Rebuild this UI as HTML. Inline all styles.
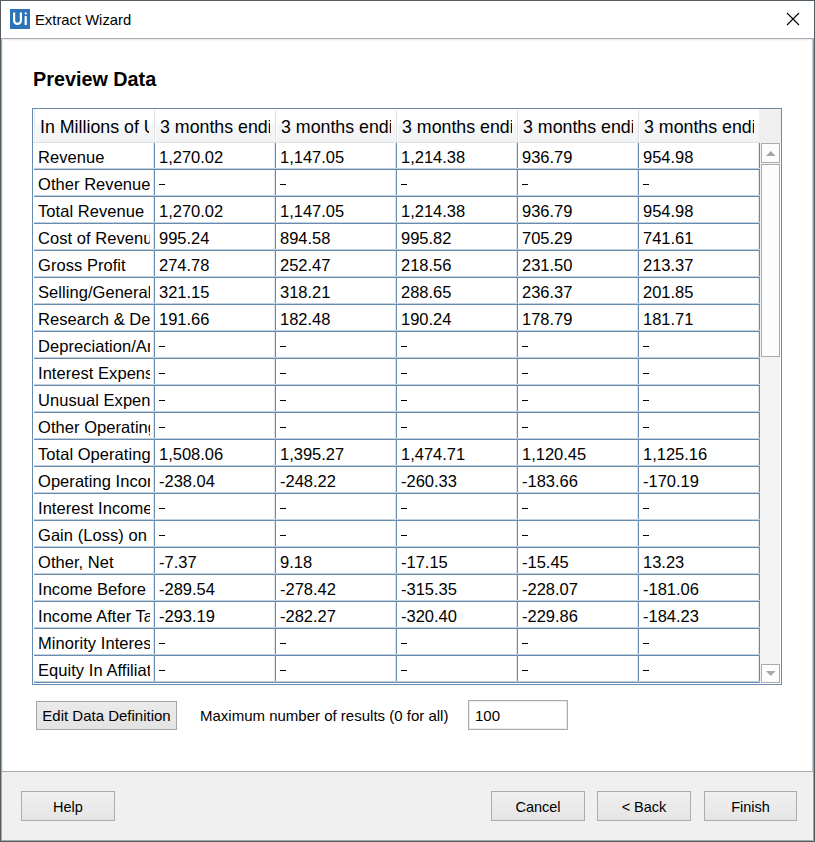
<!DOCTYPE html>
<html><head><meta charset="utf-8">
<style>
*{box-sizing:border-box;margin:0;padding:0}
html,body{width:815px;height:842px;overflow:hidden;background:#fff}
body{position:relative;font-family:"Liberation Sans",sans-serif;color:#000}
div,svg{position:absolute}
i{font-style:normal}
#frame{left:0;top:0;width:815px;height:842px;border:1px solid #535c61}
#tline{left:1px;top:38px;width:813px;height:1px;background:#aaabb0}
#lin{left:1px;top:39px;width:1px;height:802px;background:#a5a8ad}
#lin2{left:2px;top:39px;width:1px;height:801px;background:linear-gradient(#e6e7e9 0,#e6e7e9 732px,#f3f3f3 732px)}
#rin{left:813px;top:39px;width:1px;height:802px;background:#999ca1}
#rin2{left:812px;top:39px;width:1px;height:801px;background:linear-gradient(#c8c9cd 0,#c8c9cd 732px,#f4f4f4 732px)}
#bin{left:1px;top:840px;width:813px;height:1px;background:#a5a8ad}
#icon{left:10px;top:9px;width:20px;height:20px;background:#2e7bc0;color:#fff;font-size:17px;line-height:20px;text-align:center;letter-spacing:-0.5px}
#title{left:35px;top:10px;font-size:14.8px;line-height:20px;white-space:nowrap}
#footer{left:3px;top:772px;width:809px;height:68px;background:#f0f0f0}
#fline{left:2px;top:771px;width:811px;height:1px;background:#a9abb0}
#heading{left:33px;top:67px;font-size:19.8px;font-weight:bold;line-height:24px;white-space:nowrap}
#tbl{left:32px;top:108px;width:750px;height:577px;border:1px solid #688caf;background:#fff}
#hdr{left:33px;top:109px;width:726px;height:34px;background:linear-gradient(#fff 0,#fff 14px,#f7f8fa 14px,#f1f2f4 100%);border-bottom:1px solid #dfe0e2}
.sep{top:110px;width:2px;height:32px;background:linear-gradient(to right,#e1e2e4 50%,#fdfdfd 50%)}
#hdr i{position:absolute;top:0;height:33px;font-size:17.8px;line-height:33px;padding-top:2px;white-space:nowrap;overflow:hidden}
#grid{left:34px;top:143px;width:726px;height:540px;
 background:repeating-linear-gradient(to bottom,transparent 0,transparent 25px,#c2cfdc 25px,#c2cfdc 26px,#688caf 26px,#688caf 27px),
 repeating-linear-gradient(to right,transparent 0,transparent 119px,#dde5ee 119px,#dde5ee 120px,#688caf 120px,#688caf 121px)}
.r{left:0;height:26px;width:760px}
.r i{position:absolute;top:0;height:26px;font-size:16.5px;line-height:26px;padding-top:1px;white-space:nowrap;overflow:hidden}
.r i.k0{font-size:16.5px}
#sbh{left:759px;top:109px;width:22px;height:34px;background:#efefef}
#sb{left:760px;top:143px;width:20px;height:540px;background:#f3f3f3}
.sbb{left:761px;width:19px;height:20px;border:1px solid #ababab;background:#fcfcfc}
.btn{border:1px solid #acacac;background:linear-gradient(#f0f0f0,#e5e5e5);font-size:14.5px;text-align:center;white-space:nowrap}
.r i.k0{left:38px;width:112px;letter-spacing:0.05px}
#hdr i.k0{left:7px;width:109px}
.r i.k1{left:159px;width:112px}
#hdr i.k1{left:127px;width:110px}
.r i.k2{left:280px;width:112px}
#hdr i.k2{left:248px;width:110px}
.r i.k3{left:401px;width:112px}
#hdr i.k3{left:369px;width:110px}
.r i.k4{left:522px;width:112px}
#hdr i.k4{left:490px;width:110px}
.r i.k5{left:643px;width:112px}
#hdr i.k5{left:611px;width:110px}
.d{position:absolute;left:0;top:14px;width:6px;height:1px;background:#000}
</style></head><body>
<div id="frame"></div>
<div id="tline"></div>
<div id="lin"></div><div id="lin2"></div>
<div id="rin"></div><div id="rin2"></div>
<div id="bin"></div><div style="left:3px;top:39px;width:809px;height:1px;background:#ececee"></div><div style="left:3px;top:40px;width:809px;height:1px;background:#f9f9fa"></div>
<svg style="left:10px;top:9px" width="20" height="20" viewBox="0 0 20 20"><rect width="20" height="20" fill="#2b74b8"/><path d="M4.1 3.6V11.5A3.4 3.4 0 0 0 10.9 11.5V3.6" stroke="#fff" stroke-width="2.2" fill="none"/><rect x="14.6" y="7.1" width="2.2" height="8.9" fill="#fff"/><circle cx="15.7" cy="4.4" r="1.15" fill="#fff"/></svg>
<div id="title">Extract Wizard</div>
<svg style="left:786px;top:12px" width="14" height="14" viewBox="0 0 14 14"><path d="M1 1L13 13M13 1L1 13" stroke="#000" stroke-width="1.1"/></svg>
<div id="heading">Preview Data</div>
<div id="tbl"></div>
<div id="hdr"><i class="k0">In Millions of USD</i><i class="k1">3 months ending</i><i class="k2">3 months ending</i><i class="k3">3 months ending</i><i class="k4">3 months ending</i><i class="k5">3 months ending</i></div>
<div class="sep" style="left:154px"></div><div class="sep" style="left:275px"></div><div class="sep" style="left:396px"></div><div class="sep" style="left:517px"></div><div class="sep" style="left:638px"></div>
<div style="left:33px;top:109px;width:3px;height:33px;background:linear-gradient(to right,#f6f6f6 0,#f6f6f6 1px,#eeeeee 1px,#eeeeee 2px,#f7f7f7 2px)"></div>
<div id="sbh"></div>
<div id="grid"></div>
<div id="rows" style="left:0;top:0">
<div class="r" style="top:143px"><i class="k0">Revenue</i><i class="k1">1,270.02</i><i class="k2">1,147.05</i><i class="k3">1,214.38</i><i class="k4">936.79</i><i class="k5">954.98</i></div>
<div class="r" style="top:170px"><i class="k0">Other Revenue, Total</i><i class="k1"><b class="d"></b></i><i class="k2"><b class="d"></b></i><i class="k3"><b class="d"></b></i><i class="k4"><b class="d"></b></i><i class="k5"><b class="d"></b></i></div>
<div class="r" style="top:197px"><i class="k0">Total Revenue</i><i class="k1">1,270.02</i><i class="k2">1,147.05</i><i class="k3">1,214.38</i><i class="k4">936.79</i><i class="k5">954.98</i></div>
<div class="r" style="top:224px"><i class="k0">Cost of Revenue, Total</i><i class="k1">995.24</i><i class="k2">894.58</i><i class="k3">995.82</i><i class="k4">705.29</i><i class="k5">741.61</i></div>
<div class="r" style="top:251px"><i class="k0">Gross Profit</i><i class="k1">274.78</i><i class="k2">252.47</i><i class="k3">218.56</i><i class="k4">231.50</i><i class="k5">213.37</i></div>
<div class="r" style="top:278px"><i class="k0">Selling/General/Admin</i><i class="k1">321.15</i><i class="k2">318.21</i><i class="k3">288.65</i><i class="k4">236.37</i><i class="k5">201.85</i></div>
<div class="r" style="top:305px"><i class="k0">Research &amp; Development</i><i class="k1">191.66</i><i class="k2">182.48</i><i class="k3">190.24</i><i class="k4">178.79</i><i class="k5">181.71</i></div>
<div class="r" style="top:332px"><i class="k0">Depreciation/Amortization</i><i class="k1"><b class="d"></b></i><i class="k2"><b class="d"></b></i><i class="k3"><b class="d"></b></i><i class="k4"><b class="d"></b></i><i class="k5"><b class="d"></b></i></div>
<div class="r" style="top:359px"><i class="k0">Interest Expense</i><i class="k1"><b class="d"></b></i><i class="k2"><b class="d"></b></i><i class="k3"><b class="d"></b></i><i class="k4"><b class="d"></b></i><i class="k5"><b class="d"></b></i></div>
<div class="r" style="top:386px"><i class="k0">Unusual Expense</i><i class="k1"><b class="d"></b></i><i class="k2"><b class="d"></b></i><i class="k3"><b class="d"></b></i><i class="k4"><b class="d"></b></i><i class="k5"><b class="d"></b></i></div>
<div class="r" style="top:413px"><i class="k0">Other Operating Expenses</i><i class="k1"><b class="d"></b></i><i class="k2"><b class="d"></b></i><i class="k3"><b class="d"></b></i><i class="k4"><b class="d"></b></i><i class="k5"><b class="d"></b></i></div>
<div class="r" style="top:440px"><i class="k0">Total Operating Expense</i><i class="k1">1,508.06</i><i class="k2">1,395.27</i><i class="k3">1,474.71</i><i class="k4">1,120.45</i><i class="k5">1,125.16</i></div>
<div class="r" style="top:467px"><i class="k0">Operating Income</i><i class="k1">-238.04</i><i class="k2">-248.22</i><i class="k3">-260.33</i><i class="k4">-183.66</i><i class="k5">-170.19</i></div>
<div class="r" style="top:494px"><i class="k0">Interest Income</i><i class="k1"><b class="d"></b></i><i class="k2"><b class="d"></b></i><i class="k3"><b class="d"></b></i><i class="k4"><b class="d"></b></i><i class="k5"><b class="d"></b></i></div>
<div class="r" style="top:521px"><i class="k0">Gain (Loss) on Sale</i><i class="k1"><b class="d"></b></i><i class="k2"><b class="d"></b></i><i class="k3"><b class="d"></b></i><i class="k4"><b class="d"></b></i><i class="k5"><b class="d"></b></i></div>
<div class="r" style="top:548px"><i class="k0">Other, Net</i><i class="k1">-7.37</i><i class="k2">9.18</i><i class="k3">-17.15</i><i class="k4">-15.45</i><i class="k5">13.23</i></div>
<div class="r" style="top:575px"><i class="k0">Income Before Tax</i><i class="k1">-289.54</i><i class="k2">-278.42</i><i class="k3">-315.35</i><i class="k4">-228.07</i><i class="k5">-181.06</i></div>
<div class="r" style="top:602px"><i class="k0">Income After Tax</i><i class="k1">-293.19</i><i class="k2">-282.27</i><i class="k3">-320.40</i><i class="k4">-229.86</i><i class="k5">-184.23</i></div>
<div class="r" style="top:629px"><i class="k0">Minority Interest</i><i class="k1"><b class="d"></b></i><i class="k2"><b class="d"></b></i><i class="k3"><b class="d"></b></i><i class="k4"><b class="d"></b></i><i class="k5"><b class="d"></b></i></div>
<div class="r" style="top:656px"><i class="k0">Equity In Affiliates</i><i class="k1"><b class="d"></b></i><i class="k2"><b class="d"></b></i><i class="k3"><b class="d"></b></i><i class="k4"><b class="d"></b></i><i class="k5"><b class="d"></b></i></div>
</div>
<div id="sb"></div>
<div class="sbb" style="top:143px"></div>
<div class="sbb" style="top:164px;height:193px"></div>
<div class="sbb" style="top:664px;height:19px"></div>
<svg style="left:761px;top:143px" width="19" height="20" viewBox="0 0 19 20"><path d="M5 13H14.5L9.75 8Z" fill="#a6a6a6"/></svg>
<svg style="left:761px;top:664px" width="19" height="19" viewBox="0 0 19 19"><path d="M5 7H14.5L9.75 12Z" fill="#a6a6a6"/></svg>
<div class="btn" style="left:36px;top:701px;width:141px;height:29px;line-height:28px;font-size:15px;border-color:#a5a5a5;background:linear-gradient(#eaeaea,#e3e3e3)">Edit Data Definition</div>
<div style="left:200px;top:702px;font-size:15px;line-height:28px;white-space:nowrap">Maximum number of results (0 for all)</div>
<div style="left:468px;top:700px;width:100px;height:30px;border:1px solid #ababab;box-shadow:inset 0 0 0 1px #ededed;font-size:15px;line-height:28px;padding:1px 0 0 6px">100</div>
<div id="fline"></div>
<div id="footer"></div>
<div class="btn" style="left:21px;top:791px;width:94px;height:30px;line-height:30px">Help</div>
<div class="btn" style="left:491px;top:791px;width:94px;height:30px;line-height:30px">Cancel</div>
<div class="btn" style="left:597px;top:791px;width:94px;height:30px;line-height:30px">&lt; Back</div>
<div class="btn" style="left:704px;top:791px;width:93px;height:30px;line-height:30px">Finish</div>
</body></html>
